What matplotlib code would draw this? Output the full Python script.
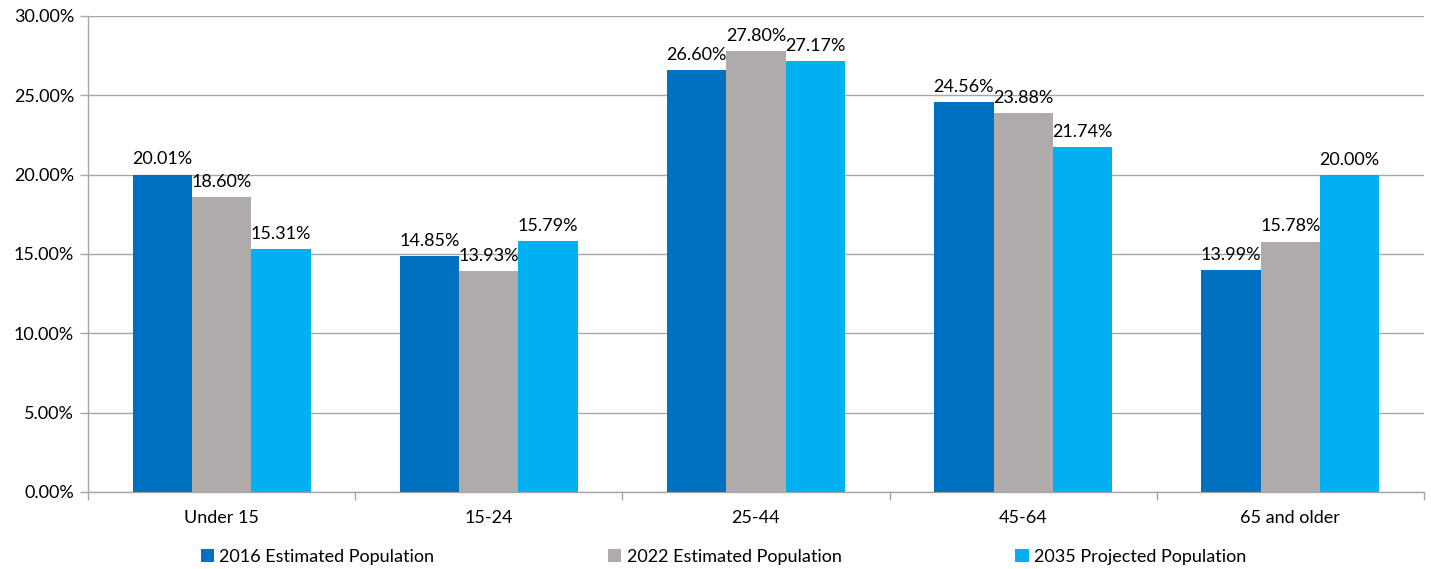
import matplotlib
matplotlib.use("Agg")
import matplotlib.pyplot as plt
import numpy as np
from matplotlib.ticker import FuncFormatter, MultipleLocator

categories = ["Under 15", "15-24", "25-44", "45-64", "65 and older"]
series_names = ["2016 Estimated Population", "2022 Estimated Population", "2035 Projected Population"]
v2016 = [20.01, 14.85, 26.60, 24.56, 13.99]
v2022 = [18.60, 13.93, 27.80, 23.88, 15.78]
v2035 = [15.31, 15.79, 27.17, 21.74, 20.00]
colors = ["#0070C0", "#AFABAB", "#00B0F0"]

plt.rcParams['font.family'] = ['Lato', 'DejaVu Sans']
fs = 13

fig = plt.figure(figsize=(14.31, 5.69), dpi=100)
ax = fig.add_axes([88/1431, 1 - 492/569, (1424-88)/1431, (492-16)/569])

x = np.arange(len(categories))
w = 0.222
for i, (vals, c, name) in enumerate(zip([v2016, v2022, v2035], colors, series_names)):
    pos = x + (i - 1) * w
    ax.bar(pos, vals, width=w, color=c, label=name, zorder=3)
    for p, v in zip(pos, vals):
        ax.text(p, v + 0.45, f"{v:.2f}%", ha='center', va='bottom', fontsize=fs, color='black', zorder=4)

ax.set_xlim(-0.5, 4.5)
ax.set_ylim(0, 30)
ax.yaxis.set_major_locator(MultipleLocator(5))
ax.yaxis.set_major_formatter(FuncFormatter(lambda v, p: f"{v:.2f}%"))
ax.grid(axis='y', color='#A6A6A6', linewidth=1, zorder=0)
ax.set_xticks(x)
ax.set_xticklabels(categories, fontsize=fs)
ax.tick_params(axis='x', length=0, pad=13)
ax.set_xticks(np.arange(-0.5, 5.0, 1.0), minor=True)
ax.tick_params(axis='x', which='minor', length=6, color='#A6A6A6', width=1)
ax.tick_params(axis='y', length=6, color='#A6A6A6', width=1, labelsize=fs, pad=4)
for s in ['top', 'right']:
    ax.spines[s].set_visible(False)
for s in ['left', 'bottom']:
    ax.spines[s].set_color('#A6A6A6')
    ax.spines[s].set_linewidth(1)

leg = fig.legend(loc='center', bbox_to_anchor=(0.5055, 1 - 557/569), ncol=3, frameon=False,
                 fontsize=fs, handlelength=0.75, handleheight=0.75, handletextpad=0.3,
                 columnspacing=9.6)

fig.savefig("out.png", dpi=100)
